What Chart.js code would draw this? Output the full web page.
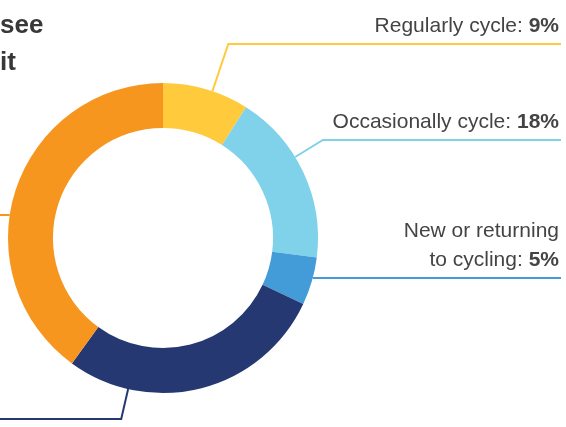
<!DOCTYPE html>
<html>
<head>
<meta charset="utf-8">
<script src="https://cdn.jsdelivr.net/npm/chart.js@4"></script>
<style>
  body { margin: 0; background: #fff; }
  #wrap { position: relative; width: 566px; height: 427px; overflow: hidden; }
  #title {
    position: absolute; left: 0; top: 6px;
    font: bold 26px 'Liberation Sans', Arial, sans-serif;
    line-height: 37px; color: #383838;
  }
</style>
</head>
<body>
<div id="wrap">
  <canvas id="chart" width="566" height="427"></canvas>
  <div id="title">see<br>it</div>
</div>
<script>
// data
const categories = [
  'Regularly cycle',
  'Occasionally cycle',
  ['New or returning', 'to cycling'],
  'Do not cycle but would like to',
  'Do not cycle'
]
const shares = [9, 18, 5, 28, 40]
const sliceColors = ['#FFCB3D', '#7FD2EA', '#439CD8', '#253871', '#F7961F']

// leader line layout (angle from top, clockwise; y of the horizontal rule)
const anchorDeg = [18.6, 58.5, 105, 193, 278.5]
const lineY = [44, 140, 278, 419, 215]
const side = ['right', 'right', 'right', 'left', 'left']

const FONT = "'Liberation Sans', Arial, sans-serif"

const leaderPlugin = {
  id: 'leaders',
  afterDatasetsDraw (chart) {
    const ctx = chart.ctx
    const arcs = chart.getDatasetMeta(0).data
    arcs.forEach((arc, i) => {
      const { x, y, outerRadius } = arc.getProps(['x', 'y', 'outerRadius'], true)
      const rad = anchorDeg[i] * Math.PI / 180
      const ax = x + outerRadius * Math.sin(rad)
      const ay = y - outerRadius * Math.cos(rad)
      const ly = lineY[i]
      let r = (y - ly) / Math.cos(rad)
      if (!(r > outerRadius)) r = outerRadius
      const ex = x + r * Math.sin(rad)
      const endX = side[i] === 'right' ? 561 : -5

      ctx.save()
      ctx.strokeStyle = sliceColors[i]
      ctx.lineWidth = 2
      ctx.beginPath()
      ctx.moveTo(ax, ay)
      ctx.lineTo(ex, ly)
      ctx.lineTo(endX, ly)
      ctx.stroke()

      if (side[i] === 'right') {
        const lines = Array.isArray(categories[i]) ? categories[i] : [categories[i]]
        const right = 559
        ctx.fillStyle = '#444'
        ctx.textAlign = 'right'
        ctx.textBaseline = 'alphabetic'
        lines.forEach((txt, k) => {
          const base = ly - 12 - (lines.length - 1 - k) * 29
          if (k === lines.length - 1) {
            const val = shares[i] + '%'
            ctx.font = 'bold 21px ' + FONT
            const w = ctx.measureText(val).width
            ctx.fillText(val, right, base)
            ctx.font = '21px ' + FONT
            ctx.fillText(txt + ': ', right - w, base)
          } else {
            ctx.font = '21px ' + FONT
            ctx.fillText(txt, right, base)
          }
        })
      }
      ctx.restore()
    })
  }
}

new Chart(document.getElementById('chart'), {
  type: 'doughnut',
  data: {
    labels: categories,
    datasets: [{
      data: shares,
      backgroundColor: sliceColors,
      borderWidth: 0
    }]
  },
  options: {
    responsive: false,
    animation: false,
    cutout: '71%',
    layout: { padding: { left: 8, top: 83, right: 248, bottom: 34 } },
    plugins: {
      legend: { display: false },
      tooltip: { enabled: false }
    }
  },
  plugins: [leaderPlugin]
})
</script>
</body>
</html>
